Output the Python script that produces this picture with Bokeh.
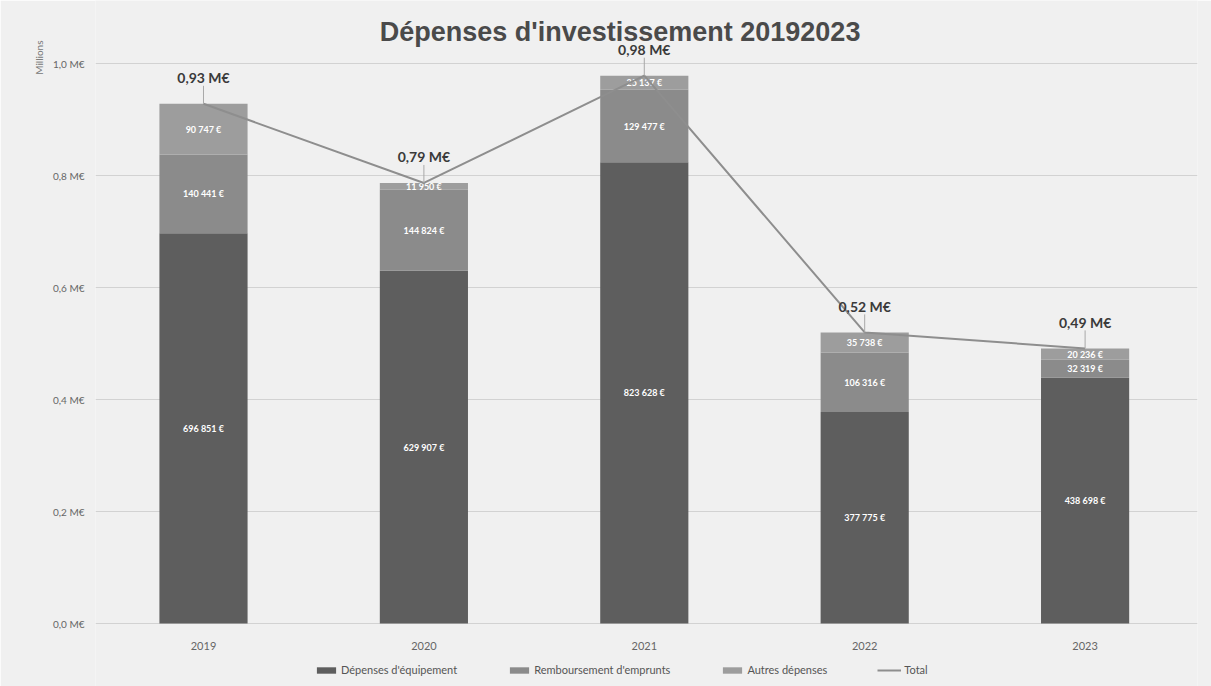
from bokeh.plotting import figure
from bokeh.models import ColumnDataSource, Label, Legend, LegendItem, FixedTicker, Range1d, Title
from bokeh.core.properties import value
from bokeh.embed import file_html
from bokeh.resources import INLINE

years = ["2019", "2020", "2021", "2022", "2023"]
equip = [696851, 629907, 823628, 377775, 438698]
remb = [140441, 144824, 129477, 106316, 32319]
autres = [90747, 11950, 25137, 35738, 20236]
y_ticks = [0, 200000, 400000, 600000, 800000, 1000000]
y_tick_labels = ["0,0 M€", "0,2 M€", "0,4 M€", "0,6 M€", "0,8 M€", "1,0 M€"]

C_EQ = "#5e5e5e"
C_RE = "#8b8b8b"
C_AU = "#9d9d9d"
C_LINE = "#8e8e8e"
BG = "#f0f0f0"
FONT = "Lato"

def eur(v):
    return f"{v:,}".replace(",", " ") + " €"

x = list(range(len(years)))
total = [a + b + c for a, b, c in zip(equip, remb, autres)]
src = ColumnDataSource(dict(
    x=x, equip=equip, remb=remb, autres=autres, total=total, years=years,
    zero=[0] * len(years),
    y_eq=[e / 2 for e in equip],
    y_re=[e + r / 2 for e, r in zip(equip, remb)],
    y_au=[e + r + a / 2 for e, r, a in zip(equip, remb, autres)],
    t_eq=[eur(v) for v in equip],
    t_re=[eur(v) for v in remb],
    t_au=[eur(v) for v in autres],
    t_tot=[f"{t/1e6:.2f}".replace(".", ",") + " M€" for t in total],
))

PX = 1e6 / 560  # euros per pixel
p = figure(width=1211, height=686, x_range=Range1d(-0.49, 4.51),
           y_range=Range1d(-63 * PX, 623 * PX),
           output_backend="svg", toolbar_location=None,
           min_border_left=95, min_border_right=14, min_border_top=0, min_border_bottom=0)
p.background_fill_color = BG
p.border_fill_color = BG
p.outline_line_color = None

rs = p.vbar_stack(["equip", "remb", "autres"], x="x", width=0.4, color=[C_EQ, C_RE, C_AU],
                  line_color=None, source=src)

for ycol, tcol in (("y_eq", "t_eq"), ("y_re", "t_re"), ("y_au", "t_au")):
    p.text(x="x", y=ycol, text=tcol, source=src, text_color="white", text_font_size="9px",
           text_font=value(FONT), text_font_style="bold", text_align="center", text_baseline="middle")

line = p.line(x="x", y="total", source=src, line_color=C_LINE, line_width=2)

OFF = 26
src.data["lead_top"] = [t + (OFF - 8) * PX for t in total]
p.segment(x0="x", y0="total", x1="x", y1="lead_top", source=src, line_color="#a8a8a8", line_width=1)
p.text(x="x", y="total", text="t_tot", source=src, y_offset=-OFF, text_color="#3a3a3a",
       text_font_size="14px", text_font=value(FONT), text_font_style="bold",
       text_align="center", text_baseline="middle")

# category labels under the bars
p.text(x="x", y="zero", text="years", source=src, y_offset=22, text_color="#666666",
       text_font_size="11px", text_font=value(FONT), text_align="center", text_baseline="middle")

p.add_layout(Label(x=1.89, y=592 * PX, text="Dépenses d'investissement 20192023",
                   text_font="Liberation Sans", text_font_style="bold", text_font_size="27px",
                   text_color="#4a4a4a", text_align="center", text_baseline="middle"))
p.add_layout(Title(text="Millions", align="right", text_font=FONT, text_font_size="10px",
                   text_font_style="normal", text_color="#777777", offset=40), "left")

p.xaxis.visible = False
p.yaxis.ticker = FixedTicker(ticks=y_ticks)
p.yaxis.major_label_overrides = {t: l for t, l in zip(y_ticks, y_tick_labels)}
p.yaxis.axis_line_color = None
p.yaxis.major_tick_line_color = None
p.yaxis.minor_tick_line_color = None
p.yaxis.major_label_text_font = FONT
p.yaxis.major_label_text_color = "#666666"
p.yaxis.major_label_text_font_size = "10px"
p.ygrid.grid_line_color = "#d2d2d2"
p.ygrid.ticker = FixedTicker(ticks=y_ticks)
p.xgrid.grid_line_color = None

legend = Legend(items=[
    LegendItem(label="Dépenses d'équipement", renderers=[rs[0]]),
    LegendItem(label="Remboursement d'emprunts", renderers=[rs[1]]),
    LegendItem(label="Autres dépenses", renderers=[rs[2]]),
    LegendItem(label="Total", renderers=[line]),
], orientation="horizontal", location=(219, 10), background_fill_alpha=0, border_line_color=None,
   label_text_font=FONT, label_text_font_size="11px", label_text_color="#555555",
   glyph_width=24, glyph_height=8, label_height=12, spacing=50, padding=2, margin=0,
   label_standoff=3)
p.add_layout(legend)

open("out.html", "w").write(file_html(p, INLINE))
